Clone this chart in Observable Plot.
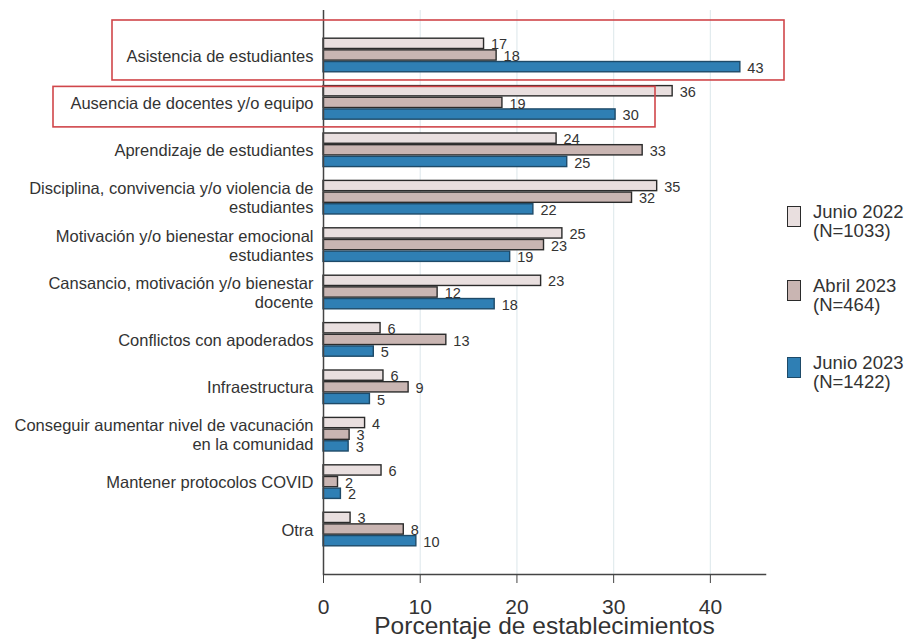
<!DOCTYPE html>
<html>
<head>
<meta charset="utf-8">
<script src="https://cdn.jsdelivr.net/npm/d3@7"></script>
<script src="https://cdn.jsdelivr.net/npm/@observablehq/plot@0.6"></script>
<style>
  body { margin: 0; background: #fff; font-family: "Liberation Sans", Arial, sans-serif; }
  #wrap { position: relative; width: 909px; height: 639px; overflow: hidden; }
  .leg { position: absolute; left: 787px; }
  .leg .sw { position: absolute; left: 0; width: 14px; height: 21px; box-sizing: border-box; border: 1.5px solid #333; }
  .leg .tx { position: absolute; left: 26px; top: -4px; font-size: 18.5px; line-height: 19px; color: #333; white-space: nowrap; }
</style>
</head>
<body>
<div id="wrap"></div>
<script>
// ---- Data ----
const categories = [
  "Asistencia de estudiantes",
  "Ausencia de docentes y/o equipo",
  "Aprendizaje de estudiantes",
  "Disciplina, convivencia y/o violencia de\nestudiantes",
  "Motivación y/o bienestar emocional\nestudiantes",
  "Cansancio, motivación y/o bienestar\ndocente",
  "Conflictos con apoderados",
  "Infraestructura",
  "Conseguir aumentar nivel de vacunación\nen la comunidad",
  "Mantener protocolos COVID",
  "Otra"
];
const seriesNames = ["Junio 2022", "Abril 2023", "Junio 2023"];
const seriesN = ["(N=1033)", "(N=464)", "(N=1422)"];
const junio2022 = [16.6, 36.1, 24.1, 34.5, 24.7, 22.5, 5.9, 6.2, 4.3, 6.0, 2.8];
const abril2023 = [17.9, 18.5, 33.0, 31.9, 22.8, 11.8, 12.7, 8.8, 2.7, 1.5, 8.3];
const junio2023 = [43.1, 30.2, 25.2, 21.7, 19.3, 17.7, 5.2, 4.8, 2.6, 1.8, 9.6];
const xTicks = [0, 10, 20, 30, 40];
const xLabel = "Porcentaje de establecimientos";

const fills = ["#e9dfdf", "#c9b5b2", "#2f7fb4"];
const strokes = ["#2b2b2b", "#2b2b2b", "#1e4a68"];
const seriesValues = [junio2022, abril2023, junio2023];

// ---- Layout ----
const W = 909, H = 639;
const mTop = 10, mBottom = 65, mLeft = 323, mRight = W - 765;
const pInner = 0.262, pOuter = 0.58;
const plotH = H - mTop - mBottom;
const step = plotH / (categories.length - pInner + 2 * pOuter);
const bw = step * (1 - pInner);
const h = bw / 3;

const rows = seriesValues.map((vals, k) =>
  categories.map((c, i) => ({cat: c, v: vals[i], serie: seriesNames[k], k}))
);

const barMarks = rows.map((data, k) =>
  Plot.barX(data, {
    x: "v", y: "cat",
    fill: fills[k], stroke: strokes[k], strokeWidth: 1.4,
    insetTop: k * h + 0.7, insetBottom: (2 - k) * h + 0.7
  })
);
const labelMarks = rows.map((data, k) =>
  Plot.text(data, {
    x: "v", y: "cat", text: d => String(Math.round(d.v)),
    dx: 7, dy: (k - 1) * h + 1, textAnchor: "start",
    fontSize: 14.5, fill: "#333"
  })
);

const plot = Plot.plot({
  width: W, height: H,
  marginTop: mTop, marginBottom: mBottom, marginLeft: mLeft, marginRight: mRight,
  style: {fontFamily: "'Liberation Sans', Arial, sans-serif", background: "white", color: "#333"},
  x: {domain: [0, 45.7]},
  y: {domain: categories, paddingInner: pInner, paddingOuter: pOuter, round: false, axis: null},
  marks: [
    Plot.ruleX(xTicks.filter(t => t > 0), {stroke: "#e2ebee", strokeWidth: 1.2}),
    ...barMarks,
    ...labelMarks,
    Plot.ruleX([0], {stroke: "#444", strokeWidth: 1.5}),
    Plot.frame({anchor: "bottom", stroke: "#444", strokeWidth: 1.5}),
    Plot.axisX({
      ticks: xTicks, tickSize: 9, tickPadding: 16, fontSize: 21, stroke: "#444",
      label: xLabel, labelAnchor: "center", labelArrow: false, labelOffset: 59
    }),
    Plot.text(categories, {
      y: d => d, frameAnchor: "left", dx: -10, textAnchor: "end",
      fontSize: 16.5, lineHeight: 1.15, fill: "#333"
    })
  ]
});

const wrap = document.getElementById("wrap");
wrap.appendChild(plot);

// axis label font
d3.select(plot).selectAll("[aria-label='x-axis label'] text, [aria-label='x-axis label']")
  .attr("font-size", 24.5);

// ---- Red highlight boxes (annotation) ----
const ys = plot.scale("y");
const yb = d3.scaleBand().domain(ys.domain).range(ys.range)
  .paddingInner(ys.paddingInner).paddingOuter(ys.paddingOuter).align(ys.align ?? 0.5);
const boxes = [
  {cat: categories[0], x1: 112, x2: 784, top: -17.5, bottom: 7.5},
  {cat: categories[1], x1: 53, x2: 655, top: 1.5, bottom: 7}
];
const svg = d3.select(plot);
boxes.forEach(b => {
  const y0 = yb(b.cat);
  svg.append("rect")
    .attr("x", b.x1).attr("y", y0 + b.top)
    .attr("width", b.x2 - b.x1).attr("height", yb.bandwidth() + b.bottom - b.top)
    .attr("fill", "none").attr("stroke", "#d0464a").attr("stroke-width", 1.6);
});

// ---- Legend ----
const legTops = [206, 280, 357];
seriesNames.forEach((s, k) => {
  const g = document.createElement("div");
  g.className = "leg";
  g.style.top = legTops[k] + "px";
  const sw = document.createElement("div");
  sw.className = "sw";
  sw.style.background = fills[k];
  sw.style.borderColor = strokes[k];
  const tx = document.createElement("div");
  tx.className = "tx";
  tx.innerHTML = s + "<br>" + seriesN[k];
  g.appendChild(sw); g.appendChild(tx);
  wrap.appendChild(g);
});
</script>
</body>
</html>
